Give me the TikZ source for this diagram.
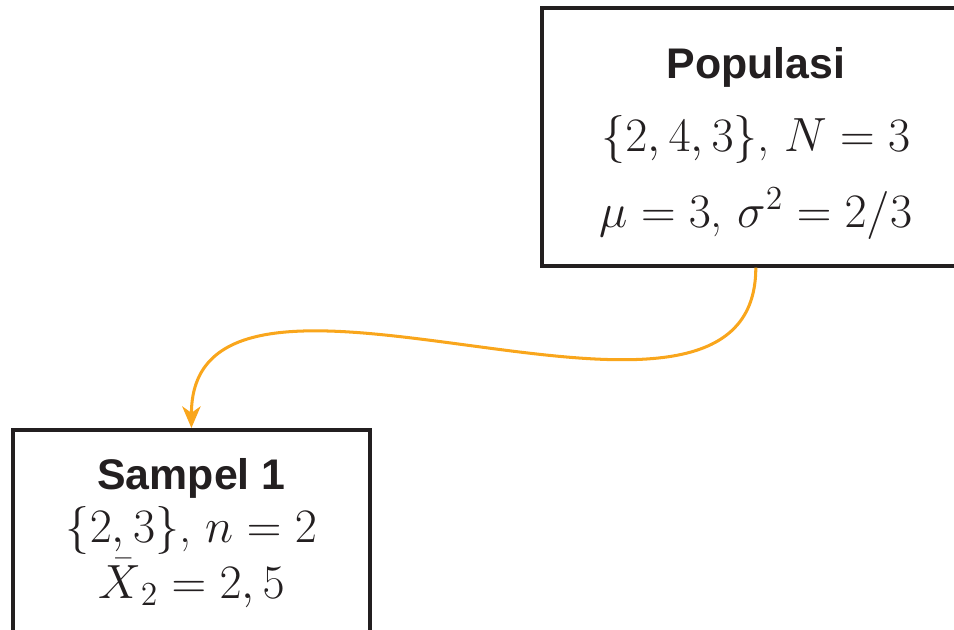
\RequirePackage{fix-cm}
\documentclass[tikz,border=0pt]{standalone}
\usepackage{amsmath,amssymb}
\usepackage[no-math]{fontspec}
\setsansfont{Liberation Sans}
\usetikzlibrary{arrows.meta, positioning}
\definecolor{boxink}{HTML}{231F20}
\definecolor{floworange}{HTML}{F9A61C}
\newcommand{\boxtitle}[1]{{\fontsize{19.8pt}{24pt}\selectfont\sffamily\bfseries #1}}

\begin{document}
\begin{tikzpicture}[
  box/.style={draw=boxink, line width=1.8pt, align=center, text=boxink,
    inner ysep=0pt, font=\fontsize{22.2pt}{27pt}\selectfont},
  flow/.style={draw=floworange, line width=1.4pt,
    -{Stealth[length=10pt, width=8.5pt, inset=3pt]}}
]

% Frame (reference is cut off at the right and at the bottom)
\clip (0,0) rectangle (15.5,10.22);

% Population
\node[box, minimum width=6.94cm, text height=101.5pt, text depth=17.8pt] (pop) at (12.28,8.0)
  {\boxtitle{Populasi}\\[6.4pt]
   $\{2,4,3\}$, $N=3$\\[8.1pt]
   $\mu=3$, $\sigma^2=2/3$};

% Sample
\node[box, anchor=north, minimum width=5.8cm, text height=77.7pt, text depth=4cm] (samp) at (3.11,3.266)
  {\boxtitle{Sampel 1}\\[-2.5pt]
   $\{2,3\}$, $n=2$\\[-1.1pt]
   $\smash{\bar{X}}_2=2,5$};

% Sampling arrow
\draw[flow] (pop.south) to[out=-90, in=90] (samp.north);
\end{tikzpicture}
\end{document}
